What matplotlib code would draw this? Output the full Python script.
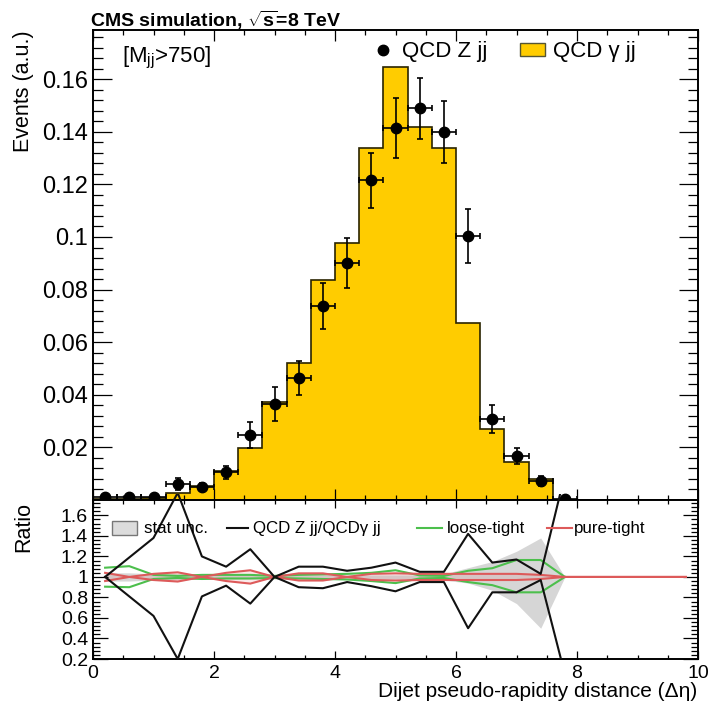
import numpy as np
import matplotlib
matplotlib.use("Agg")
import matplotlib.pyplot as plt
from matplotlib.patches import Rectangle
from matplotlib.lines import Line2D
from matplotlib.ticker import MultipleLocator, FixedLocator, FuncFormatter

plt.rcParams['font.family'] = ['Liberation Sans', 'DejaVu Sans']
plt.rcParams['mathtext.fontset'] = 'custom'
plt.rcParams['mathtext.rm'] = 'Liberation Sans'
plt.rcParams['mathtext.it'] = 'Liberation Sans:italic'
plt.rcParams['mathtext.bf'] = 'Liberation Sans:bold'

# ---------------- data ----------------
deta_edges = np.linspace(0.0, 10.0, 26)          # 0.4-wide bins in delta-eta
deta_centers = 0.5 * (deta_edges[:-1] + deta_edges[1:])
bin_width = deta_edges[1] - deta_edges[0]

# QCD gamma jj (filled histogram), normalised
gamma_jj = [0.0003, 0.0005, 0.0006, 0.0027, 0.0053, 0.0110, 0.0198, 0.0373,
            0.0521, 0.0837, 0.0977, 0.1340, 0.1646, 0.1418, 0.1338, 0.0673,
            0.0270, 0.0144, 0.0080, 0.0, 0.0, 0.0, 0.0, 0.0, 0.0]

# QCD Z jj (points with errors), first 20 bins
z_jj = [0.0010, 0.0010, 0.0010, 0.0061, 0.0049, 0.0106, 0.0247, 0.0365,
        0.0464, 0.0737, 0.0900, 0.1216, 0.1414, 0.1490, 0.1400, 0.1003,
        0.0308, 0.0167, 0.0072, 0.0004]
z_err = [0.0005, 0.0005, 0.0005, 0.0022, 0.0015, 0.0025, 0.0050, 0.0066,
         0.0066, 0.0088, 0.0095, 0.0105, 0.0114, 0.0116, 0.0118, 0.0103,
         0.0053, 0.0030, 0.0019, 0.0008]

# ratio panel curves (first 20 bins unless noted)
stat_hi = [1.04, 1.04, 1.03, 1.03, 1.02, 1.02, 1.02, 1.02, 1.02, 1.02,
           1.02, 1.02, 1.02, 1.02, 1.03, 1.09, 1.15, 1.25, 1.38, 1.00]
stat_lo = [0.96, 0.96, 0.97, 0.97, 0.98, 0.98, 0.98, 0.98, 0.98, 0.98,
           0.98, 0.98, 0.98, 0.98, 0.97, 0.94, 0.87, 0.74, 0.50, 1.00]

ratio_hi = [1.00, 1.19, 1.38, 1.82, 1.20, 1.10, 1.27, 1.00, 1.10, 1.10,
            1.06, 1.09, 1.14, 1.05, 1.05, 1.42, 1.14, 1.17, 1.03, 2.00]
ratio_lo = [1.00, 0.81, 0.62, 0.20, 0.81, 0.915, 0.74, 1.00, 0.90, 0.89,
            0.95, 0.91, 0.86, 0.95, 0.95, 0.50, 0.85, 0.85, 0.97, 0.05]

loose_hi = [1.09, 1.105, 1.02, 1.01, 1.02, 1.02, 1.02, 1.01, 1.02, 1.025,
            1.03, 1.04, 1.065, 1.015, 1.01, 1.06, 1.085, 1.165, 1.165, 1.00]
loose_lo = [0.905, 0.90, 0.98, 0.99, 0.98, 0.985, 0.985, 0.99, 0.985, 0.98,
            0.975, 0.96, 0.94, 0.985, 0.99, 0.95, 0.92, 0.85, 0.85, 1.00]

# pure-tight spans all 25 bins
pure_hi = [1.04, 1.00, 0.97, 0.955, 1.00, 1.04, 1.065, 1.00, 0.965, 0.965,
           1.00, 1.03, 1.035, 1.03, 1.03, 1.03, 1.03, 1.03, 1.02, 1.00,
           1.00, 1.00, 1.00, 1.00, 1.00]
pure_lo = [0.96, 1.00, 1.03, 1.045, 1.00, 0.96, 0.935, 1.00, 1.035, 1.035,
           1.00, 0.97, 0.965, 0.97, 0.97, 0.97, 0.97, 0.97, 0.98, 1.00,
           1.00, 1.00, 1.00, 1.00, 1.00]

main_yticks = [0.02, 0.04, 0.06, 0.08, 0.10, 0.12, 0.14, 0.16]
ratio_yticks = [0.2, 0.4, 0.6, 0.8, 1.0, 1.2, 1.4, 1.6]
x_ticks = [0, 2, 4, 6, 8, 10]

GOLD = '#ffcc00'
GREEN = '#4cbf4c'
RED = '#dd5a5a'

# ---------------- figure ----------------
W, H = 709, 702
fig = plt.figure(figsize=(W / 100, H / 100), dpi=100)


def fx(px):
    return px / W


def fy(py):
    return 1 - py / H


ax = fig.add_axes([fx(93), fy(500), fx(698) - fx(93), fy(30) - fy(500)])
rx = fig.add_axes([fx(93), fy(659), fx(698) - fx(93), fy(500) - fy(659)])

nz = len(z_jj)
cz = deta_centers[:nz]

# main panel
ax.stairs(gamma_jj, deta_edges, fill=True, facecolor=GOLD, edgecolor='none', zorder=1)
ax.stairs(gamma_jj, deta_edges, fill=False, baseline=0, color='#2a2400',
          linewidth=1.2, zorder=2)
ax.errorbar(cz, z_jj, yerr=z_err, xerr=bin_width / 2, fmt='o', color='black',
            ms=7.5, elinewidth=1.2, capsize=2.2, capthick=1.2, zorder=3,
            clip_on=True)

ax.set_xlim(0, 10)
ax.set_ylim(0, 0.1787)
ax.xaxis.set_major_locator(FixedLocator(x_ticks))
ax.xaxis.set_minor_locator(MultipleLocator(0.5))
ax.yaxis.set_major_locator(FixedLocator(main_yticks))
ax.yaxis.set_minor_locator(MultipleLocator(0.004))
ax.yaxis.set_major_formatter(FuncFormatter(lambda v, p: '%g' % round(v, 3)))
ax.tick_params(which='both', direction='in', top=True, right=True,
               labelbottom=False, width=0.9)
ax.tick_params(axis='y', which='major', length=13.5, labelsize=17, pad=3.6)
ax.tick_params(axis='y', which='minor', length=7)
ax.tick_params(axis='x', which='major', length=8)
ax.tick_params(axis='x', which='minor', length=3.6)
for s in ax.spines.values():
    s.set_linewidth(1.4)

# ratio panel
rx.fill_between(cz, stat_lo, stat_hi, color='#d6d6d6', linewidth=0, zorder=1)
rx.fill_between(deta_centers, pure_lo, pure_hi, color=RED, alpha=0.12,
                linewidth=0, zorder=1)
for arr in (loose_hi, loose_lo):
    rx.plot(cz, arr, color=GREEN, linewidth=1.5, zorder=2)
for arr in (pure_hi, pure_lo):
    rx.plot(deta_centers, arr, color=RED, linewidth=1.5, zorder=3)

clip_rect = Rectangle((0, 0), 1, 1.035, transform=rx.transAxes,
                      facecolor='none', edgecolor='none')
for arr in (ratio_hi, ratio_lo):
    ln, = rx.plot(cz, arr, color='#111111', linewidth=1.5, zorder=4)
    ln.set_clip_path(clip_rect)

rx.set_xlim(0, 10)
rx.set_ylim(0.2, 1.75)
rx.xaxis.set_major_locator(FixedLocator(x_ticks))
rx.xaxis.set_minor_locator(MultipleLocator(0.5))
rx.yaxis.set_major_locator(FixedLocator(ratio_yticks))
rx.yaxis.set_minor_locator(MultipleLocator(0.04))
rx.yaxis.set_major_formatter(FuncFormatter(lambda v, p: '%g' % round(v, 2)))
rx.tick_params(which='both', direction='in', top=True, right=True, width=0.9)
rx.tick_params(axis='y', which='major', length=11, labelsize=14, pad=3.6)
rx.tick_params(axis='y', which='minor', length=5)
rx.tick_params(axis='x', which='major', length=6, labelsize=14, pad=4.3)
rx.tick_params(axis='x', which='minor', length=3)
for s in rx.spines.values():
    s.set_linewidth(1.4)

# ---------------- texts ----------------
fig.text(fx(90), fy(27), r'CMS simulation, $\sqrt{\mathbf{s}}$=8 TeV',
         fontsize=14, fontweight='bold', ha='left', va='baseline')
fig.text(fx(24), fy(30), 'Events (a.u.)', rotation=90, fontsize=15.5,
         ha='center', va='top')
fig.text(fx(24), fy(502), 'Ratio', rotation=90, fontsize=15.5,
         ha='center', va='top')
fig.text(fx(697), fy(697), 'Dijet pseudo-rapidity distance (Δη)', fontsize=15,
         ha='right', va='baseline')

fig.text(fx(122), fy(62), r'[M$_{\mathrm{jj}}$>750]', fontsize=16,
         ha='left', va='baseline')

# main legend
fig.add_artist(Line2D([fx(383)], [fy(50)], marker='o', ms=7.5, color='black',
                      transform=fig.transFigure))
fig.text(fx(402), fy(57), 'QCD Z jj', fontsize=16, ha='left', va='baseline')
fig.add_artist(Rectangle((fx(520), fy(56)), fx(25), fy(43) - fy(56),
                         facecolor=GOLD, edgecolor='#555533', linewidth=1.0,
                         transform=fig.transFigure))
fig.text(fx(553), fy(57), 'QCD γ jj', fontsize=16, ha='left', va='baseline')

# ratio legend
ly = 528
fig.add_artist(Rectangle((fx(112), fy(535)), fx(25), fy(521) - fy(535),
                         facecolor='#dcdcdc', edgecolor='#777777', linewidth=1.0,
                         transform=fig.transFigure))
fig.text(fx(144), fy(533), 'stat unc.', fontsize=12.2, ha='left', va='baseline')
fig.add_artist(Line2D([fx(227), fx(248)], [fy(ly), fy(ly)], color='#111111',
                      linewidth=1.5, transform=fig.transFigure))
fig.text(fx(253), fy(533), 'QCD Z jj/QCDγ jj', fontsize=12.2, ha='left',
         va='baseline')
fig.add_artist(Line2D([fx(417), fx(442)], [fy(ly), fy(ly)], color=GREEN,
                      linewidth=1.5, transform=fig.transFigure))
fig.text(fx(447), fy(533), 'loose-tight', fontsize=12.2, ha='left', va='baseline')
fig.add_artist(Line2D([fx(547), fx(572)], [fy(ly), fy(ly)], color=RED,
                      linewidth=1.5, transform=fig.transFigure))
fig.text(fx(574), fy(533), 'pure-tight', fontsize=12.2, ha='left', va='baseline')

fig.savefig('out.png', dpi=100)
